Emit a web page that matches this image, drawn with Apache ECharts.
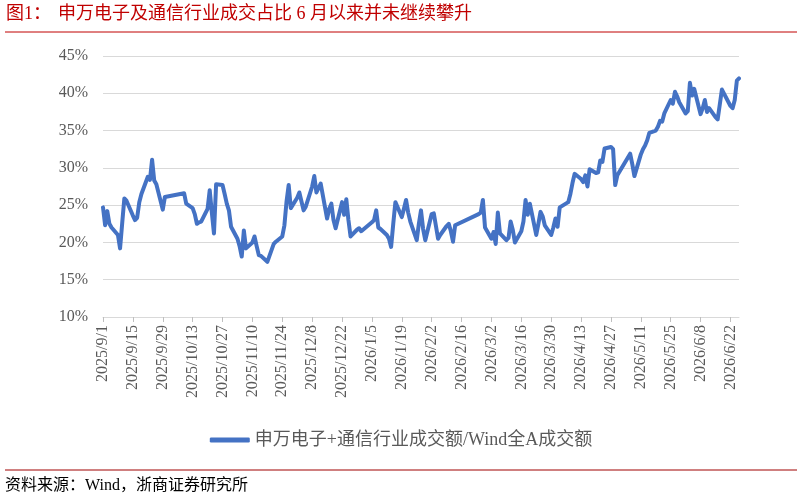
<!DOCTYPE html>
<html lang="zh-CN">
<head>
<meta charset="UTF-8">
<title>申万电子及通信行业成交占比</title>
<script src="https://cdn.jsdelivr.net/npm/echarts@6/dist/echarts.min.js"></script>
<style>
  html, body, #chart { margin: 0; padding: 0; width: 802px; height: 500px; background: #fff; }
</style>
</head>
<body>
<div id="chart"></div>
<script>
// 交易日
const dates = [
  '2025/9/1','2025/9/2','2025/9/3','2025/9/4','2025/9/5','2025/9/8','2025/9/9','2025/9/10','2025/9/11','2025/9/12',
  '2025/9/15','2025/9/16','2025/9/17','2025/9/18','2025/9/19','2025/9/22','2025/9/23','2025/9/24','2025/9/25','2025/9/26',
  '2025/9/29','2025/9/30','2025/10/9','2025/10/10','2025/10/13','2025/10/14','2025/10/15','2025/10/16','2025/10/17',
  '2025/10/20','2025/10/21','2025/10/22','2025/10/23','2025/10/24','2025/10/27','2025/10/28','2025/10/29','2025/10/30','2025/10/31',
  '2025/11/3','2025/11/4','2025/11/5','2025/11/6','2025/11/7','2025/11/10','2025/11/11','2025/11/12','2025/11/13','2025/11/14',
  '2025/11/17','2025/11/18','2025/11/19','2025/11/20','2025/11/21','2025/11/24','2025/11/25','2025/11/26','2025/11/27','2025/11/28',
  '2025/12/1','2025/12/2','2025/12/3','2025/12/4','2025/12/5','2025/12/8','2025/12/9','2025/12/10','2025/12/11','2025/12/12',
  '2025/12/15','2025/12/16','2025/12/17','2025/12/18','2025/12/19','2025/12/22','2025/12/23','2025/12/24','2025/12/25','2025/12/26',
  '2025/12/29','2025/12/30','2025/12/31','2026/1/5','2026/1/6','2026/1/7','2026/1/8','2026/1/9',
  '2026/1/12','2026/1/13','2026/1/14','2026/1/15','2026/1/16','2026/1/19','2026/1/20','2026/1/21','2026/1/22','2026/1/23',
  '2026/1/26','2026/1/27','2026/1/28','2026/1/29','2026/1/30','2026/2/2','2026/2/3','2026/2/4','2026/2/5','2026/2/6',
  '2026/2/9','2026/2/10','2026/2/11','2026/2/12','2026/2/13','2026/2/24','2026/2/25','2026/2/26','2026/2/27',
  '2026/3/2','2026/3/3','2026/3/4','2026/3/5','2026/3/6','2026/3/9','2026/3/10','2026/3/11','2026/3/12','2026/3/13',
  '2026/3/16','2026/3/17','2026/3/18','2026/3/19','2026/3/20','2026/3/23','2026/3/24','2026/3/25','2026/3/26','2026/3/27',
  '2026/3/30','2026/3/31','2026/4/1','2026/4/2','2026/4/3','2026/4/7','2026/4/8','2026/4/9','2026/4/10',
  '2026/4/13','2026/4/14','2026/4/15','2026/4/16','2026/4/17','2026/4/20','2026/4/21','2026/4/22','2026/4/23','2026/4/24',
  '2026/4/27','2026/4/28','2026/4/29','2026/4/30','2026/5/6','2026/5/7','2026/5/8',
  '2026/5/11','2026/5/12','2026/5/13','2026/5/14','2026/5/15','2026/5/18','2026/5/19','2026/5/20','2026/5/21','2026/5/22',
  '2026/5/25','2026/5/26','2026/5/27','2026/5/28','2026/5/29','2026/6/1','2026/6/2','2026/6/3','2026/6/4','2026/6/5',
  '2026/6/8','2026/6/9','2026/6/10','2026/6/11','2026/6/12','2026/6/15','2026/6/16','2026/6/17','2026/6/18',
  '2026/6/22','2026/6/23','2026/6/24','2026/6/25','2026/6/26'
];

// 成交额占比 (%)
const shares = [
  24.7,22.3,24.2,22.5,22.0,21.0,19.2,22.6,25.9,25.6,
  23.6,23.0,23.3,25.4,26.5,28.8,28.4,31.1,28.3,27.8,
  24.4,26.1,26.6,25.2,24.6,23.8,22.5,22.7,22.8,
  24.5,27.0,24.0,21.2,27.8,27.7,26.5,25.2,24.3,22.1,
  20.5,19.5,18.1,21.6,19.2,20.0,20.8,19.5,18.3,18.2,
  17.4,18.2,19.0,19.8,20.1,20.8,22.3,25.5,27.7,24.6,
  26.0,26.7,25.5,24.3,24.8,27.5,28.9,26.7,27.3,27.9,
  23.2,24.5,25.2,23.0,21.9,25.4,23.7,25.8,23.0,20.8,
  21.7,21.9,21.5,22.7,23.0,24.3,22.0,21.8,
  21.0,20.5,19.4,22.5,25.4,23.4,24.5,25.7,24.0,22.8,
  20.3,22.5,24.3,21.8,20.3,23.8,23.9,22.2,20.5,21.0,
  22.2,22.5,21.5,20.1,22.3,23.8,24.0,25.7,22.0,
  20.5,21.4,19.8,24.0,21.2,20.3,20.6,22.8,21.7,20.0,
  21.5,22.8,25.7,23.7,25.2,21.0,22.5,24.1,23.5,22.3,
  21.0,22.0,23.2,22.1,24.7,25.4,26.5,28.0,29.2,
  28.5,28.1,29.0,27.5,29.8,29.3,29.4,31.0,30.8,32.6,
  32.8,32.5,27.7,29.0,31.9,30.5,28.9,
  31.8,32.5,33.0,33.7,34.7,35.0,35.5,36.3,36.2,37.3,
  39.1,38.6,40.2,39.6,38.8,37.3,37.6,41.4,39.7,40.6,
  37.2,38.0,39.1,37.5,38.0,36.8,36.5,38.5,40.5,
  38.3,38.0,39.1,41.7,42.0
];

// x 轴刻度（两周一个）
const tickDates = [
  '2025/9/1','2025/9/15','2025/9/29','2025/10/13','2025/10/27','2025/11/10','2025/11/24','2025/12/8',
  '2025/12/22','2026/1/5','2026/1/19','2026/2/2','2026/2/16','2026/3/2','2026/3/16','2026/3/30',
  '2026/4/13','2026/4/27','2026/5/11','2026/5/25','2026/6/8','2026/6/22'
];

const seriesName = '申万电子+通信行业成交额/Wind全A成交额';

function parseDate(s) {
  const p = s.split('/').map(Number);
  return new Date(p[0], p[1] - 1, p[2]);
}
const start = parseDate(dates[0]);
function dayOf(s) {
  return Math.round((parseDate(s) - start) / 86400000);
}
function labelOf(day) {
  const d = new Date(start.getFullYear(), start.getMonth(), start.getDate() + day);
  return d.getFullYear() + '/' + (d.getMonth() + 1) + '/' + d.getDate();
}

const lineData = dates.map(function (d, i) { return [dayOf(d), shares[i]]; });
const tickDays = tickDates.map(dayOf);
const lastDay = dayOf(dates[dates.length - 1]);

const serif = '"Liberation Serif", "Times New Roman", "Noto Sans CJK SC", serif';
const red = '#c00000';

const chart = echarts.init(document.getElementById('chart'), null, { renderer: 'canvas' });

chart.setOption({
  animation: false,
  backgroundColor: '#fff',
  grid: { left: 103, right: 63, top: 56, bottom: 183 },
  xAxis: {
    type: 'value',
    min: 0,
    max: lastDay,
    splitLine: { show: false },
    axisLine: { lineStyle: { color: '#d9d9d9', width: 1 } },
    axisTick: {
      customValues: tickDays,
      length: 5,
      lineStyle: { color: '#bfbfbf' }
    },
    axisLabel: {
      customValues: tickDays,
      rotate: 90,
      margin: 8,
      color: '#595959',
      fontFamily: serif,
      fontSize: 16,
      formatter: function (v) { return labelOf(v); }
    }
  },
  yAxis: {
    type: 'value',
    min: 10,
    max: 45,
    interval: 5,
    axisLine: { show: false },
    axisTick: { show: false },
    splitLine: { lineStyle: { color: '#d9d9d9', width: 1 } },
    axisLabel: {
      margin: 15,
      color: '#595959',
      fontFamily: serif,
      fontSize: 16,
      formatter: '{value}%'
    }
  },
  legend: {
    top: 426,
    left: 'center',
    icon: 'roundRect',
    itemWidth: 40,
    itemHeight: 5,
    itemGap: 10,
    textStyle: { color: '#595959', fontFamily: serif, fontSize: 18 },
    data: [seriesName]
  },
  series: [{
    name: seriesName,
    type: 'line',
    data: lineData,
    showSymbol: false,
    symbol: 'none',
    color: '#4472c4',
    lineStyle: { color: '#4472c4', width: 4, cap: 'round', join: 'round' }
  }],
  graphic: [
    {
      type: 'text', left: 6, top: 5,
      style: { text: '图1：', fill: red, font: '18px ' + serif }
    },
    {
      type: 'text', left: 58, top: 5,
      style: { text: '申万电子及通信行业成交占比 6 月以来并未继续攀升', fill: red, font: '18px ' + serif }
    },
    {
      type: 'line', shape: { x1: 5, y1: 32, x2: 797, y2: 32 },
      style: { stroke: red, lineWidth: 1 }
    },
    {
      type: 'line', shape: { x1: 5, y1: 470, x2: 797, y2: 470 },
      style: { stroke: '#a00000', lineWidth: 1 }
    },
    {
      type: 'text', left: 5, top: 478,
      style: { text: '资料来源：Wind，浙商证券研究所', fill: '#000', font: '16px ' + serif }
    }
  ]
});
</script>
</body>
</html>
